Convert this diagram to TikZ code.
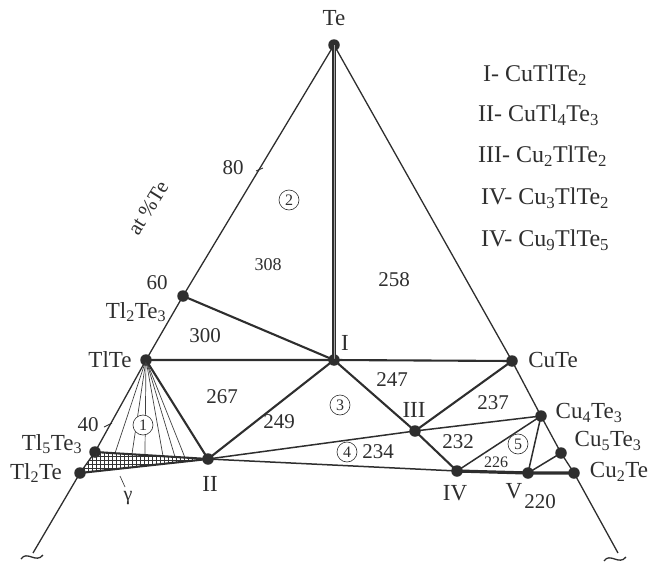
\documentclass[tikz,border=0pt]{standalone}
\usepackage{fontspec}
\setmainfont{Liberation Serif}
\usetikzlibrary{calc}
\begin{document}
\begin{tikzpicture}[x=1pt,y=-1pt,
  dot/.style={circle,fill=black!82,inner sep=0pt,minimum size=11.5pt},
  side/.style={draw=black!82,line width=1.3pt},
  tie/.style={draw=black!82,line width=2.1pt},
  mid/.style={draw=black!82,line width=1.5pt},
  fan/.style={draw=black!75,line width=0.7pt},
  lab/.style={text=black!82,inner sep=0pt,font=\fontsize{23}{26}\selectfont},
  leg/.style={text=black!82,inner sep=0pt,anchor=west,font=\fontsize{24}{27}\selectfont},
  num/.style={text=black!82,inner sep=0pt,font=\fontsize{21}{24}\selectfont},
  cnum/.style={circle,draw=black!82,line width=0.6pt,fill=white,text=black!82,inner sep=0pt,minimum size=20pt,font=\fontsize{16}{17}\selectfont}]
\useasboundingbox (0,0) rectangle (654,562);
% points
\node[dot] (Te) at (334,45) {};
\node[dot] (TlTe) at (146,360) {};
\node[dot] (TlTt) at (183,296) {};
\node[dot] (I) at (334,360) {};
\node[dot] (CuTe) at (512,361) {};
\node[dot] (TlFive) at (95,452) {};
\node[dot] (TlTwo) at (80,473) {};
\node[dot] (II) at (208,459) {};
\node[dot] (III) at (415,431) {};
\node[dot] (IV) at (457,471) {};
\node[dot] (V) at (528,473) {};
\node[dot] (CuFour) at (541,416) {};
\node[dot] (CuFive) at (561,453) {};
\node[dot] (CuTwo) at (574,473) {};
\coordinate (Lend) at (33,553);
\coordinate (Rend) at (618,553);
% hatched region
\begin{scope}
\clip (TlFive.center) -- (TlTwo.center) -- (II.center) -- cycle;
\foreach \x in {60,64,...,212} \draw[black!80,line width=0.7pt] (\x,420) -- (\x,490);
\foreach \y in {440,444,...,480} \draw[black!80,line width=0.7pt] (60,\y) -- (212,\y);
\end{scope}
% fan lines
\foreach \t in {0.177,0.327,0.442,0.602,0.708,0.796}
  \draw[fan] (TlTe.center) -- ($(TlFive.center)!\t!(II.center)$);
% sides
\draw[side] (Te.center) -- (TlTt.center) -- (TlTe.center) -- (TlFive.center) -- (TlTwo.center) -- (Lend);
\draw[side] (Te.center) -- (CuTe.center) -- (CuFour.center) -- (CuFive.center) -- (CuTwo.center) -- (Rend);
% ticks
\draw[side,line width=0.9pt] (256,171) -- (263,168);
\draw[side,line width=0.9pt] (104,427) -- (112,423);
% tie lines
\draw[draw=black!82,line width=1.1pt,double=black!35,double distance=1pt] (Te.center) -- (I.center);
\draw[tie] (TlTt.center) -- (I.center);
\draw[tie] (TlTe.center) -- (I.center) -- (CuTe.center);
\draw[tie] (TlTe.center) -- (II.center);
\draw[tie] (I.center) -- (II.center);
\draw[tie] (I.center) -- (III.center) -- (IV.center);
\draw[tie] (III.center) -- (CuTe.center);
\draw[mid] (II.center) -- (III.center) -- (CuFour.center);
\draw[mid] (II.center) -- (IV.center);
\draw[mid] (IV.center) -- (CuFour.center);
\draw[mid] (V.center) -- (CuFour.center);
\draw[mid] (V.center) -- (CuFive.center);
\draw[draw=black!82,line width=3.2pt] (IV.center) -- (V.center) -- (CuTwo.center);
\draw[tie] (TlFive.center) -- (II.center);
\draw[tie] (TlTwo.center) -- (II.center);
% tildes
\draw[side] (21,559) .. controls (27,550) and (36,564) .. (43,555);
\draw[side] (604,561) .. controls (610,552) and (619,566) .. (626,557);
% gamma leader
\coordinate (gA) at (120,476);
\coordinate (gB) at (125,487);
\draw[fan] (gA) -- (gB);
\node[lab,font=\fontsize{20}{22}\selectfont] (gam) at (128,498) {γ};
% labels
\node[lab] (lTe) at (334,18) {Te};
\node[lab] (lTlTe) at (110,360) {TlTe};
\node[lab] (lTlTt) at (136,312) {Tl\textsubscript{2}Te\textsubscript{3}};
\node[lab] (lTlFive) at (52,444) {Tl\textsubscript{5}Te\textsubscript{3}};
\node[lab] (lTlTwo) at (36,473) {Tl\textsubscript{2}Te};
\node[lab] (lCuTe) at (553,360) {CuTe};
\node[lab] (lCuFour) at (589,413) {Cu\textsubscript{4}Te\textsubscript{3}};
\node[lab] (lCuFive) at (608,441) {Cu\textsubscript{5}Te\textsubscript{3}};
\node[lab] (lCuTwo) at (619,472) {Cu\textsubscript{2}Te};
\node[lab] (lI) at (345,343) {I};
\node[lab] (lII) at (210,484) {II};
\node[lab] (lIII) at (414,410) {III};
\node[lab] (lIV) at (455,493) {IV};
\node[lab] (lV) at (514,491) {V};
% axis numbers
\node[num] (n80) at (233,168) {80};
\node[num] (n60) at (157,283) {60};
\node[num] (n40) at (88,425) {40};
\node[num,font=\fontsize{21}{24}\selectfont,rotate=58] (at) at (148,208) {at \%Te};
% temperatures
\node[num,font=\fontsize{18}{20}\selectfont] (t308) at (268,265) {308};
\node[num] (t258) at (394,280) {258};
\node[num] (t300) at (205,336) {300};
\node[num] (t267) at (222,397) {267};
\node[num] (t249) at (279,422) {249};
\node[num] (t247) at (392,380) {247};
\node[num] (t237) at (493,403) {237};
\node[num] (t232) at (458,442) {232};
\node[num,font=\fontsize{16}{18}\selectfont] (t226) at (496,462) {226};
\node[num] (t234) at (378,452) {234};
\node[num] (t220) at (540,502) {220};
% circled
\node[cnum] (c1) at (143,425) {1};
\node[cnum] (c2) at (289,200) {2};
\node[cnum] (c3) at (340,405) {3};
\node[cnum] (c4) at (347,452) {4};
\node[cnum] (c5) at (518,444) {5};
% legend
\node[leg] (g1) at (483,75) {I- CuTlTe\textsubscript{2}};
\node[leg] (g2) at (478,115) {II- CuTl\textsubscript{4}Te\textsubscript{3}};
\node[leg] (g3) at (478,156) {III- Cu\textsubscript{2}TlTe\textsubscript{2}};
\node[leg] (g4) at (481,198) {IV- Cu\textsubscript{3}TlTe\textsubscript{2}};
\node[leg] (g5) at (481,240) {IV- Cu\textsubscript{9}TlTe\textsubscript{5}};
\end{tikzpicture}
\end{document}
